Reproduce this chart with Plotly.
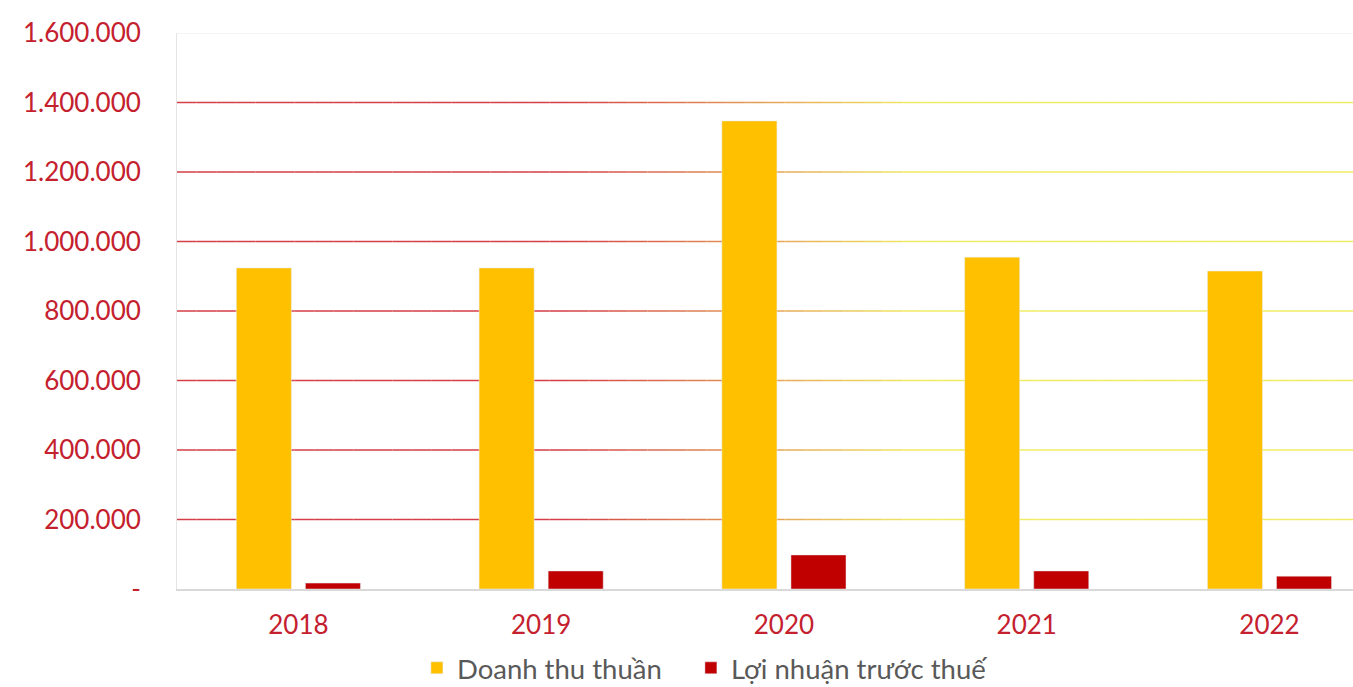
import plotly.graph_objects as go

years = ["2018", "2019", "2020", "2021", "2022"]
doanh_thu = [924000, 924000, 1347000, 955000, 915000]
loi_nhuan = [17000, 52000, 98000, 52000, 37000]
tick_vals = [0, 200000, 400000, 600000, 800000, 1000000, 1200000, 1400000, 1600000]
tick_text = ["-", "200.000", "400.000", "600.000", "800.000", "1.000.000", "1.200.000", "1.400.000", "1.600.000"]

FONT = "Lato"
LABEL_RED = "#c4202e"

fig = go.Figure()
fig.add_trace(go.Bar(x=years, y=doanh_thu, name="Doanh thu thuần", marker_color="#FFC000", legend="legend"))
fig.add_trace(go.Bar(x=years, y=loi_nhuan, name="Lợi nhuận trước thuế", marker_color="#C00000", legend="legend2"))

# gradient gridlines (red on the left, yellow on the right)
red = (212, 62, 70)
yel = (240, 236, 100)
nseg = 60
shapes = []
for v in tick_vals[1:-1]:
    for i in range(nseg):
        x0 = i / nseg
        x1 = (i + 1) / nseg
        xm = (x0 + x1) / 2
        t = min(max((xm - 0.33) / 0.30, 0), 1)
        c = tuple(int(round(red[k] + (yel[k] - red[k]) * t)) for k in range(3))
        shapes.append(dict(type="line", xref="paper", yref="y", x0=x0, x1=x1, y0=v, y1=v,
                           line=dict(color="rgb(%d,%d,%d)" % c, width=1.5), layer="below"))
shapes.append(dict(type="line", xref="paper", yref="y", x0=0, x1=1, y0=tick_vals[-1], y1=tick_vals[-1],
                   line=dict(color="#f2f2f2", width=1.5), layer="below"))

leg_common = dict(orientation="h", xanchor="left", y=-0.142, yanchor="middle",
                  font=dict(size=27.5, color="#595959", family=FONT), itemwidth=30,
                  bgcolor="rgba(0,0,0,0)")

fig.update_layout(
    width=1353, height=687,
    margin=dict(l=177, r=0, t=33, b=98, autoexpand=False),
    paper_bgcolor="white", plot_bgcolor="white",
    barmode="group", bargap=0.431, bargroupgap=0.203,
    shapes=shapes,
    font=dict(family=FONT),
    showlegend=True,
    legend=dict(x=0.2040, **leg_common),
    legend2=dict(x=0.4370, **leg_common),
)
fig.update_xaxes(range=[-0.5, 4.344], showgrid=False, showline=True, linecolor="#d9d9d9", linewidth=1.5,
                 tickfont=dict(size=26, color=LABEL_RED, family=FONT), ticks="", ticklabelstandoff=12)
fig.update_yaxes(range=[0, 1600000], tickvals=tick_vals, ticktext=tick_text, showgrid=False,
                 showline=True, linecolor="#e4e4e4", linewidth=1, zeroline=False,
                 tickfont=dict(size=26, color=LABEL_RED, family=FONT), ticks="", ticklabelstandoff=30)

post = """
document.documentElement.style.margin='0';
document.body.style.margin='0';
document.body.style.overflow='hidden';
"""
fig.write_html("out.html", config={"displayModeBar": False}, post_script=post)
